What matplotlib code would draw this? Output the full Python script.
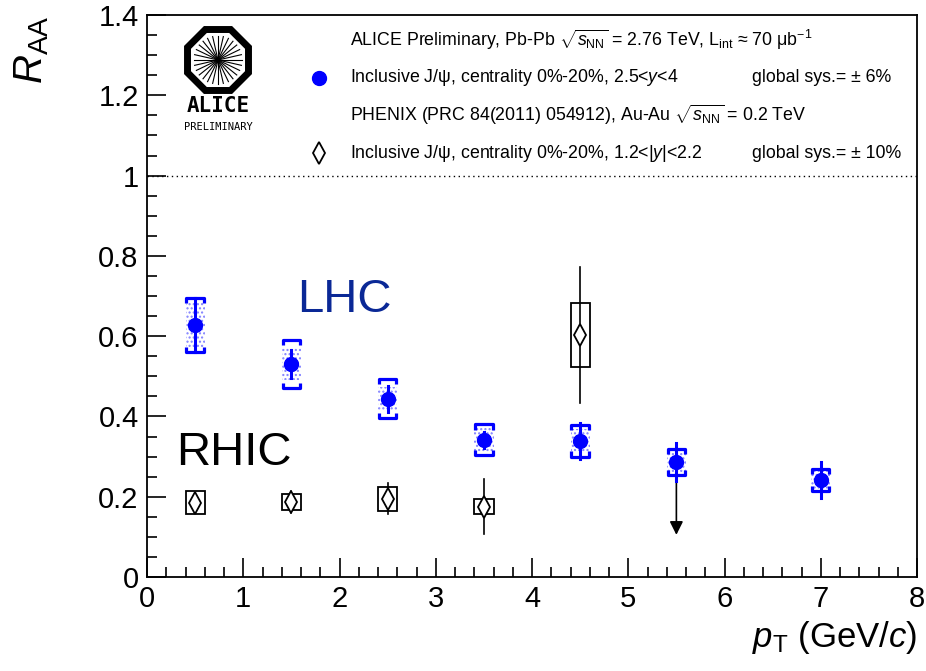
import numpy as np
import matplotlib
matplotlib.use("Agg")
import matplotlib.pyplot as plt
from matplotlib.patches import Rectangle, RegularPolygon

plt.rcParams['font.family'] = ['Liberation Sans', 'DejaVu Sans']
plt.rcParams['mathtext.fontset'] = 'custom'
plt.rcParams['mathtext.rm'] = 'Liberation Sans'
plt.rcParams['mathtext.it'] = 'Liberation Sans:italic'
plt.rcParams['mathtext.bf'] = 'Liberation Sans:bold'

# ALICE Pb-Pb 2.76 TeV, 2.5<y<4
alice_pt = [0.5, 1.5, 2.5, 3.5, 4.5, 5.5, 7.0]
alice_raa = [0.628, 0.531, 0.444, 0.342, 0.339, 0.287, 0.242]
alice_stat = [0.068, 0.035, 0.033, 0.020, 0.045, 0.048, 0.044]
alice_sys = [0.068, 0.060, 0.049, 0.038, 0.039, 0.033, 0.028]
alice_corr = [0.055, 0.040, 0.030, 0.030, 0.030, 0.030, 0.025]

# PHENIX Au-Au 0.2 TeV, 1.2<|y|<2.2
phenix_pt = [0.5, 1.5, 2.5, 3.5, 4.5]
phenix_raa = [0.185, 0.187, 0.195, 0.175, 0.603]
phenix_stat = [0.020, 0.028, 0.038, 0.068, 0.170]
phenix_sys = [0.029, 0.021, 0.030, 0.019, 0.080]

# upper-limit arrow at 5.5 GeV/c
arrow_pt = 5.5
arrow_from = 0.24
arrow_to = 0.105

W, H = 926, 671
fig = plt.figure(figsize=(W / 100, H / 100), dpi=100)
ax = fig.add_axes([147 / W, 1 - 577 / H, 770 / W, 562 / H])

blue = '#0000ff'

# PHENIX boxes + stat errors
for x, y, st, sy in zip(phenix_pt, phenix_raa, phenix_stat, phenix_sys):
    ax.add_patch(Rectangle((x - 0.1, y - sy), 0.2, 2 * sy, fill=False,
                           edgecolor='black', lw=1.3, zorder=3))
    ax.plot([x, x], [y - st, y + st], color='black', lw=1.2, zorder=3)
ax.plot(phenix_pt, phenix_raa, 'd', ms=11, mfc='white', mec='black', mew=1.3,
        ls='none', zorder=5)

# ALICE correlated (dotted) + uncorrelated brackets
w = 0.09
h = 0.013
for x, y, st, sy, cr in zip(alice_pt, alice_raa, alice_stat, alice_sys, alice_corr):
    ax.add_patch(Rectangle((x - 0.1, y - cr), 0.2, 2 * cr, facecolor='none',
                           edgecolor='#8080ff', lw=0, hatch='....', zorder=2))
    ax.plot([x - w, x - w, x + w, x + w], [y + sy - h, y + sy, y + sy, y + sy - h],
            color=blue, lw=2.3, zorder=4, solid_capstyle='butt')
    ax.plot([x - w, x - w, x + w, x + w], [y - sy + h, y - sy, y - sy, y - sy + h],
            color=blue, lw=2.3, zorder=4, solid_capstyle='butt')
    ax.plot([x, x], [y - st, y + st], color=blue, lw=2.2, zorder=4)
ax.plot(alice_pt, alice_raa, 'o', ms=10, color=blue, ls='none', zorder=6)

ax.annotate('', xy=(arrow_pt, arrow_to), xytext=(arrow_pt, arrow_from),
            arrowprops=dict(arrowstyle='-|>', color='black', lw=1.2,
                            mutation_scale=20, shrinkA=0, shrinkB=0), zorder=3)

ax.axhline(1.0, ls=(0, (1, 2.5)), color='black', lw=1)

ax.set_xlim(0, 8)
ax.set_ylim(0, 1.4)
ax.set_xticks(np.arange(0, 9, 1))
ax.set_xticks(np.arange(0, 8.01, 0.2), minor=True)
ax.set_yticks(np.arange(0, 1.41, 0.2))
ax.set_yticks(np.arange(0, 1.401, 0.05), minor=True)
ax.set_yticklabels(['%g' % v for v in np.round(np.arange(0, 1.41, 0.2), 1)])
ax.tick_params(which='both', direction='in', top=False, right=False, width=1.2)
ax.tick_params(which='major', length=14, labelsize=21, pad=6)
ax.tick_params(which='minor', length=7)
for s in ax.spines.values():
    s.set_linewidth(1.3)

ax.text(2.05, 0.69, 'LHC', color='#0a2896', fontsize=34, ha='center', va='center')
ax.text(0.3, 0.31, 'RHIC', color='black', fontsize=34, ha='left', va='center')

fig.text(32 / W, 1 - 50 / H, '$R_{\\rm AA}$', fontsize=29, rotation=90,
         ha='center', va='center')
fig.text(917 / W, 1 - 638 / H, '$p_{\\rm T}$ (GeV/$c$)', fontsize=25,
         ha='right', va='center')

# legend block
def ftxt(px, py, s, **kw):
    fig.text(px / W, 1 - py / H, s, fontsize=12.8, va='center', **kw)

ftxt(350, 40, 'ALICE Preliminary, Pb-Pb $\\sqrt{s_{\\rm NN}}$ = 2.76 TeV, '
              'L$_{\\rm int}$ \u2248 70 \u03bcb$^{-1}$')
ftxt(350, 78, 'Inclusive J/\u03c8, centrality 0%-20%, 2.5<$y$<4')
ftxt(752, 78, 'global sys.= \u00b1 6%')
ftxt(350, 115, 'PHENIX (PRC 84(2011) 054912), Au-Au $\\sqrt{s_{\\rm NN}}$ = 0.2 TeV')
ftxt(350, 153, 'Inclusive J/\u03c8, centrality 0%-20%, 1.2<|$y$|<2.2')
ftxt(752, 153, 'global sys.= \u00b1 10%')
lax = fig.add_axes([0, 0, 1, 1], facecolor='none')
lax.set_xlim(0, W)
lax.set_ylim(H, 0)
lax.axis('off')
lax.plot([319], [78], 'o', ms=10, color=blue)
lax.plot([319], [153], 'd', ms=11, mfc='white', mec='black', mew=1.3)

# ALICE logo
cx, cy, r = 218, 60, 33
lax.add_patch(RegularPolygon((cx, cy), 8, radius=r, orientation=np.pi / 8,
                             fill=False, edgecolor='black', lw=5))
for a in np.linspace(0, 2 * np.pi, 28, endpoint=False):
    lax.plot([cx, cx + 24 * np.cos(a)], [cy, cy + 24 * np.sin(a)],
             color='black', lw=0.8)
lax.text(cx, 106, 'ALICE', fontsize=15, fontweight='bold', family='DejaVu Sans Mono',
         ha='center', va='center')
lax.text(cx, 127, 'PRELIMINARY', fontsize=7.5, family='DejaVu Sans Mono',
         ha='center', va='center')

fig.savefig('out.png', dpi=100)
